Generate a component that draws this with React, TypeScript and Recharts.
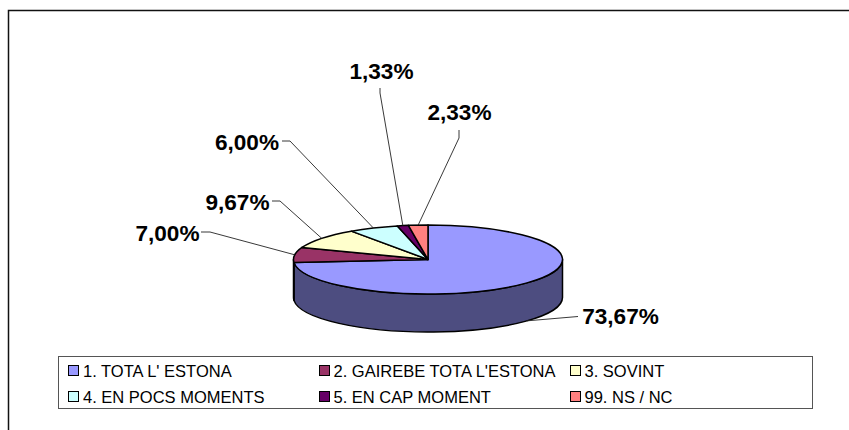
import { Legend, Pie, PieChart } from 'recharts';

const categories = [
  "1. TOTA L' ESTONA",
  "2. GAIREBE TOTA L'ESTONA",
  '3. SOVINT',
  '4. EN POCS MOMENTS',
  '5. EN CAP MOMENT',
  '99. NS / NC',
];
const shares = [73.67, 7.0, 9.67, 6.0, 1.33, 2.33];
const shareLabels = ['73,67%', '7,00%', '9,67%', '6,00%', '1,33%', '2,33%'];
const colors = ['#9999FF', '#993366', '#FFFFCC', '#CCFFFF', '#660066', '#FF8080'];
const sideColors = ['#4D4D80', '#4D1A33', '#808066', '#668080', '#330033', '#804040'];

const pieData = categories.map((name, i) => ({ name, value: shares[i], fill: colors[i], side: sideColors[i] }));

const FONT = '"Liberation Sans", Arial, sans-serif';
const TILT = 34.5 / 134.5; // flattening of the ellipse
const DEPTH = 38;

// text centre + elbow of each leader line, in chart pixels
const labelPlacement = [
  { x: 620.5, y: 316, anchor: 'middle', elbow: [[578, 316.5]] },
  { x: 167.5, y: 233, anchor: 'middle', elbow: [[201, 232], [210, 232]] },
  { x: 237.5, y: 202, anchor: 'middle', elbow: [[272, 201], [280, 201]] },
  { x: 247, y: 142, anchor: 'middle', elbow: [[282, 141], [290, 141]] },
  { x: 381.5, y: 71, anchor: 'middle', elbow: [[380, 88], [380, 93]] },
  { x: 459.5, y: 112, anchor: 'middle', elbow: [[459, 130], [459, 138]] },
];

function rimPoint(cx: number, cy: number, r: number, deg: number, drop = 0) {
  const a = (deg * Math.PI) / 180;
  return [cx + r * Math.cos(a), cy - r * TILT * Math.sin(a) + drop];
}

// Recharts only does round pies, so flatten each sector here and add the wall
function TiltedSector(props: any) {
  const { cx, cy, outerRadius: r, startAngle, endAngle, fill, side } = props;
  const ry = r * TILT;
  const [x0, y0] = rimPoint(cx, cy, r, startAngle);
  const [x1, y1] = rimPoint(cx, cy, r, endAngle);
  const large = Math.abs(startAngle - endAngle) > 180 ? 1 : 0;
  const hi = Math.min(startAngle, 0);
  const lo = Math.max(endAngle, -180);
  let wall = null;
  if (lo < hi) {
    const [ax, ay] = rimPoint(cx, cy, r, hi);
    const [bx, by] = rimPoint(cx, cy, r, lo);
    wall = (
      <path
        d={`M${ax},${ay} A${r},${ry} 0 0 1 ${bx},${by} L${bx},${by + DEPTH} A${r},${ry} 0 0 0 ${ax},${ay + DEPTH} Z`}
        fill={side}
        stroke="#000"
        strokeWidth={1.5}
        strokeLinejoin="round"
      />
    );
  }
  return (
    <g>
      {wall}
      <path
        d={`M${cx},${cy} L${x0},${y0} A${r},${ry} 0 ${large} 1 ${x1},${y1} Z`}
        fill={fill}
        stroke="#000"
        strokeWidth={1.5}
        strokeLinejoin="round"
      />
    </g>
  );
}

function SliceLabel(props: any) {
  const { cx, cy, outerRadius, midAngle, index } = props;
  const place = labelPlacement[index];
  const sinMid = Math.sin((midAngle * Math.PI) / 180);
  const end = rimPoint(cx, cy, outerRadius, midAngle, sinMid < -0.05 ? DEPTH : 0);
  const pts = [...place.elbow, end].map((p) => p.join(',')).join(' ');
  return (
    <g>
      <polyline points={pts} fill="none" stroke="#222" strokeWidth={0.9} />
      <text
        x={place.x}
        y={place.y}
        textAnchor={place.anchor as any}
        dominantBaseline="central"
        fontFamily={FONT}
        fontSize={22.6}
        fontWeight="bold"
        fill="#000"
      >
        {shareLabels[index]}
      </text>
    </g>
  );
}

function LegendBox({ payload }: any) {
  const columns = [9, 259.5, 510.5];
  return (
    <div
      style={{
        position: 'relative',
        width: 753,
        height: 51,
        border: '1.3px solid #555',
        background: '#fff',
        fontFamily: FONT,
        fontSize: 16.5,
        color: '#000',
      }}
    >
      {(payload ?? []).map((entry: any, i: number) => (
        <div
          key={entry.value}
          style={{
            position: 'absolute',
            left: columns[i % 3],
            top: i < 3 ? 4.5 : 30.5,
            height: 18,
            lineHeight: '18px',
            whiteSpace: 'nowrap',
          }}
        >
          <span
            style={{
              position: 'absolute',
              left: 0,
              top: 3.5,
              width: 9,
              height: 9,
              border: '1.3px solid #000',
              background: colors[i],
            }}
          />
          <span style={{ marginLeft: 15 }}>{entry.value}</span>
        </div>
      ))}
    </div>
  );
}

export default function App() {
  return (
    <div style={{ position: 'absolute', left: 0, top: 0, width: 849, height: 430, overflow: 'hidden', background: '#fff' }}>
      <PieChart width={849} height={430} margin={{ top: 0, right: 0, bottom: 0, left: 0 }}>
        <rect x={8.5} y={10.5} width={1000} height={600} fill="#fff" stroke="#111" strokeWidth={1.5} />
        <Pie
          data={pieData}
          dataKey="value"
          nameKey="name"
          cx={428}
          cy={259.5}
          outerRadius={134.5}
          startAngle={90}
          endAngle={-270}
          paddingAngle={0}
          shape={TiltedSector}
          label={SliceLabel}
          labelLine={false}
          isAnimationActive={false}
        />
        <Legend
          content={<LegendBox />}
          wrapperStyle={{ position: 'absolute', left: 58, top: 356, width: 'auto', height: 'auto' }}
        />
      </PieChart>
    </div>
  );
}
